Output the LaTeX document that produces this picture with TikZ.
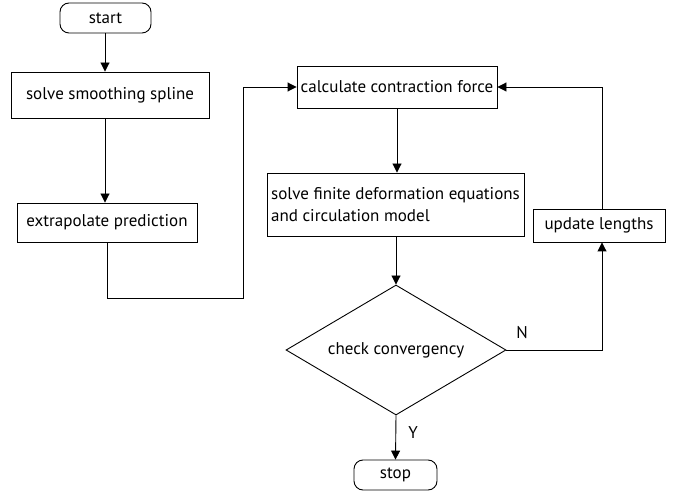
\documentclass[tikz,border=0pt]{standalone}
\usepackage{fontspec}
\setmainfont{PT Sans}
\usetikzlibrary{arrows.meta,shapes.geometric}
\begin{document}
\begin{tikzpicture}[x=1pt,y=1pt,
  font=\fontsize{17}{22}\selectfont,
  every node/.style={inner sep=0pt},
  box/.style={draw, line width=0.9pt},
  term/.style={draw, line width=0.9pt, rounded corners=9pt},
  conn/.style={line width=0.9pt, -{Triangle[length=9pt,width=9pt]}},
  plain/.style={line width=0.9pt}]
\useasboundingbox (0,0) rectangle (677,-494);
\node[term, minimum width=91pt, minimum height=30pt] (start) at (105.5,-18) {start};
\node[box, minimum width=198pt, minimum height=46pt] (s1) at (110,-95) {solve smoothing spline};
\node[box, minimum width=180pt, minimum height=39pt] (s2) at (107,-222.5) {extrapolate prediction};
\node[box, minimum width=200pt, minimum height=42pt] (calc) at (397,-87) {calculate contraction force};
\node[box, minimum width=257pt, minimum height=63pt, align=left] (solve) at (395.5,-204.5) {solve finite deformation equations\\and circulation model};
\node[box, minimum width=132pt, minimum height=33pt] (upd) at (599,-225.5) {update lengths};
\node[draw, line width=0.9pt, diamond, aspect=1.6923, minimum width=220pt, minimum height=130pt] (chk) at (396,-350) {check convergency};
\node[term, minimum width=83pt, minimum height=30pt] (stop) at (395.5,-475) {stop};
\coordinate (c1) at (107,-298);
\coordinate (c2) at (243,-298);
\coordinate (c3) at (602,-350);
\coordinate (c4) at (602,-87);
\draw[conn] (start.south -| 105,0) -- (105,0 |- s1.north);
\draw[conn] (s1.south -| 105,0) -- (105,0 |- s2.north);
\draw[conn] (s2.south) -- (c1) -- (c2) -- (c2 |- calc.west) -- (calc.west);
\draw[conn] (calc.south) -- (calc.south |- solve.north);
\draw[conn] (chk.north |- solve.south) -- (chk.north);
\draw[conn] (chk.south) -- (stop.north);
\draw[conn] (chk.east) -- (c3) -- (c3 |- upd.south);
\draw[conn] (c3 |- upd.north) -- (c4) -- (calc.east);
\node (N) at (522,-333) {N};
\node (Y) at (413,-433) {Y};
\end{tikzpicture}
\end{document}
